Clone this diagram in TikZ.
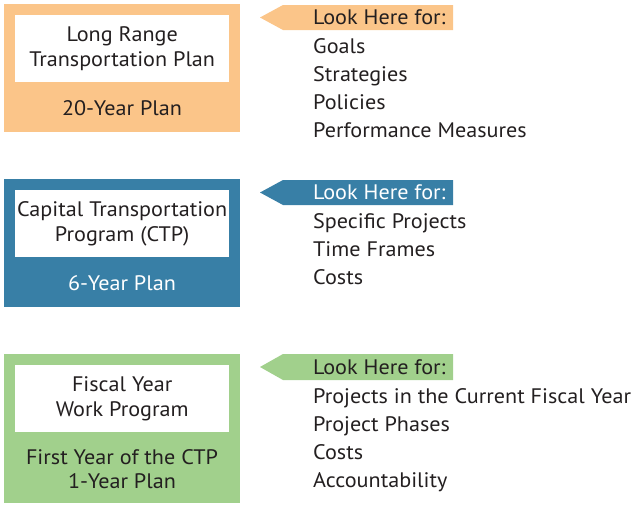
\documentclass[tikz,border=0pt]{standalone}
\usepackage{fontspec}
\setmainfont{PT Sans}[FakeStretch=1.055]
\definecolor{lrtp}{RGB}{251,197,137}
\definecolor{ctp}{RGB}{56,127,166}
\definecolor{fywp}{RGB}{161,208,140}
\definecolor{ink}{RGB}{35,31,32}
\begin{document}
\begin{tikzpicture}[x=1pt,y=-1pt,
  every node/.style={font=\fontsize{21}{24.5}\selectfont, text=ink, inner sep=0pt},
  titlebox/.style={rectangle, fill=white, minimum width=214pt, minimum height=67pt,
    anchor=north west, align=center},
  line/.style={text height=17.5pt, text depth=2pt},
  item/.style={line, anchor=west},
  tag/.style={line, anchor=west}]
\useasboundingbox (0,0) rectangle (632,504);

% Long Range Transportation Plan
\fill[lrtp] (4,4) rectangle (240,132);
\node[titlebox] (t1) at (15,15) {Long Range\\Transportation Plan};
\node[line] (p1) at (122,108) {20-Year Plan};
\fill[lrtp] (260,17.5) -- (283,5) -- (453,5) -- (453,30) -- (283,30) -- cycle;
\node[tag] (h1) at (313,17) {Look Here for:};
\node[item] (a1) at (313,46) {Goals};
\node[item] (a2) at (313,74) {Strategies};
\node[item] (a3) at (313,102) {Policies};
\node[item] (a4) at (313,130) {Performance Measures};

% Capital Transportation Program
\fill[ctp] (4,179) rectangle (240,307);
\node[titlebox] (t2) at (15,190) {Capital Transportation\\Program (CTP)};
\node[line, text=white] (p2) at (122,283) {6-Year Plan};
\fill[ctp] (260,192.5) -- (283,180) -- (453,180) -- (453,205) -- (283,205) -- cycle;
\node[tag, text=white] (h2) at (313,192) {Look Here for:};
\node[item] (b1) at (313,221) {Specific Projects};
\node[item] (b2) at (313,249) {Time Frames};
\node[item] (b3) at (313,277) {Costs};

% Fiscal Year Work Program
\fill[fywp] (4,354) rectangle (240,503);
\node[titlebox] (t3) at (15,365) {Fiscal Year\\Work Program};
\node[line] (p3a) at (122,457) {First Year of the CTP};
\node[line] (p3b) at (122,481) {1-Year Plan};
\fill[fywp] (260,367) -- (283,354) -- (453,354) -- (453,380) -- (283,380) -- cycle;
\node[tag] (h3) at (313,366.5) {Look Here for:};
\node[item] (c1) at (313,396) {Projects in the Current Fiscal Year};
\node[item] (c2) at (313,424) {Project Phases};
\node[item] (c3) at (313,452) {Costs};
\node[item] (c4) at (313,480) {Accountability};
\end{tikzpicture}
\end{document}
